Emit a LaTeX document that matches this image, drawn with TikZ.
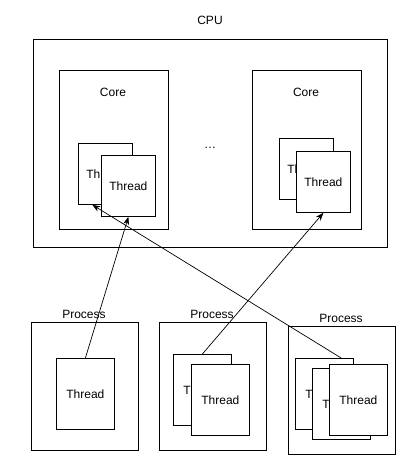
\documentclass[tikz,border=0pt]{standalone}
\usepackage{fontspec}
\setmainfont{Liberation Sans}
\usetikzlibrary{arrows.meta}
\tikzset{
  % node options
  box/.style={rectangle,draw,line width=0.8pt,anchor=north west,inner sep=0pt},
  chip/.style={box,minimum width=354pt,minimum height=208pt},
  core/.style={box,minimum width=109pt,minimum height=159pt},
  process/.style={box,minimum width=107pt,minimum height=128pt},
  coreThread/.style={box,fill=white,minimum width=54pt,minimum height=61pt},
  procThread/.style={box,fill=white,minimum width=58pt,minimum height=71pt},
  caption/.style={font=\fontsize{12}{14}\selectfont},
  % path options
  uses/.style={-{Stealth[length=8pt,width=6pt]},line width=0.7pt},
}
\begin{document}
\begin{tikzpicture}[x=1pt,y=-1pt,font=\fontsize{12}{14}\selectfont]
  \useasboundingbox (0,0) rectangle (418,473);
  % CPU with its cores
  \node[caption] (cpuLabel) at (210,20) {CPU};
  \node[chip] (cpu) at (33,39) {};
  \node[core] (core1) at (59,70) {};
  \node[caption] (core1Label) at (113,92) {Core};
  \node[core] (core2) at (252,70) {};
  \node[caption] (core2Label) at (306,92) {Core};
  \node[caption] (dots) at (210,148) {\dots};
  \node[coreThread] (c1t1) at (78,143) {Thread};
  \node[coreThread] (c1t2) at (101,155) {Thread};
  \node[coreThread] (c2t1) at (279,138) {Thread};
  \node[coreThread] (c2t2) at (296,151) {Thread};
  % processes
  \node[process] (proc1) at (31,322) {};
  \node[caption] (proc1Label) at (84,314) {Process};
  \node[procThread] (p1t) at (56,358) {Thread};
  \node[process] (proc2) at (159,322) {};
  \node[caption] (proc2Label) at (212,314) {Process};
  \node[procThread] (p2t1) at (173,354) {Thread};
  \node[procThread] (p2t2) at (191,364) {Thread};
  \node[process] (proc3) at (288,326) {};
  \node[caption] (proc3Label) at (341,318) {Process};
  \node[procThread] (p3t1) at (295,358) {Thread};
  \node[procThread] (p3t2) at (312,368) {Thread};
  \node[procThread] (p3t3) at (329,364) {Thread};
  % mapping
  \draw[uses] (p1t.north) to (c1t2.south);
  \draw[uses] (p2t1.north) to (c2t2.south);
  \draw[uses] (p3t1.65) to (c1t1.247);
\end{tikzpicture}
\end{document}
